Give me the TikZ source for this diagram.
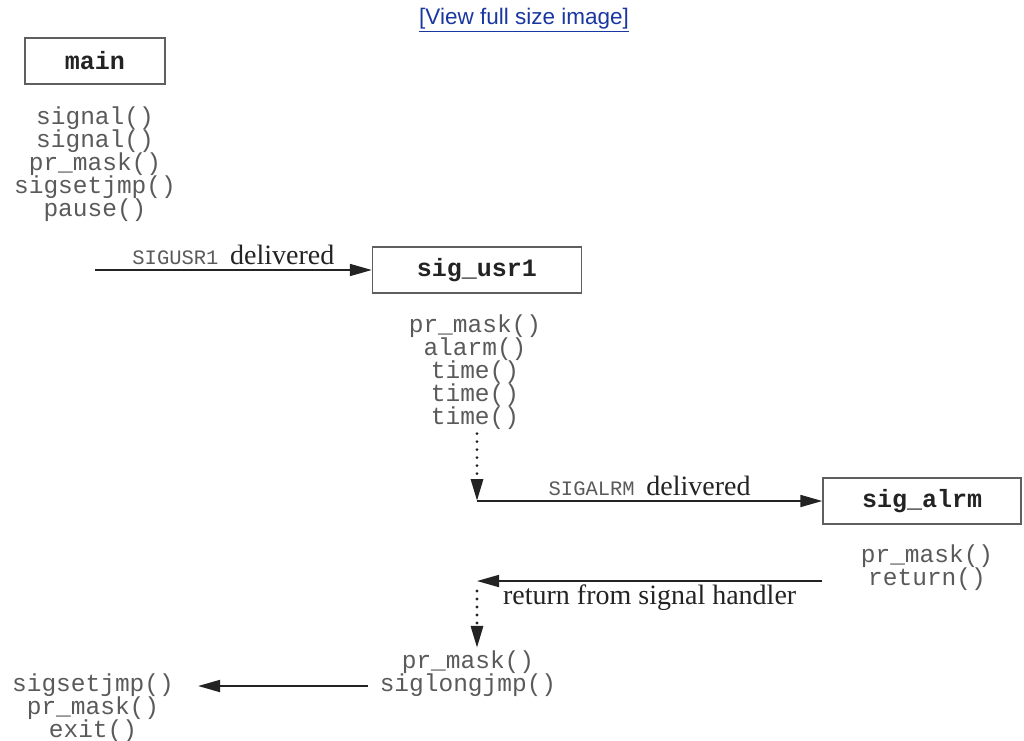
\documentclass[tikz,border=0pt]{standalone}
\usepackage{fontspec}
\setmainfont{Liberation Serif}
\setmonofont{Liberation Mono}
\newfontfamily\linkfont{Liberation Sans}
\usetikzlibrary{arrows.meta,positioning}

\definecolor{ink}{RGB}{35,35,35}
\definecolor{codegray}{RGB}{90,90,90}
\definecolor{framegray}{RGB}{95,95,95}
\definecolor{linkblue}{RGB}{25,55,160}

\newcommand\signame[1]{\textcolor{codegray}{\fontsize{20.5}{22}\selectfont\ttfamily #1}}

\begin{document}
\begin{tikzpicture}[
  x=1pt, y=-1pt,
  >={Triangle[length=22pt,width=12pt]},
  handler/.style={draw=framegray, line width=1.4pt, minimum height=46pt,
    font=\fontsize{25}{28}\selectfont\ttfamily\bfseries, text=ink},
  calls/.style={align=center, inner sep=0pt, text=codegray,
    font=\fontsize{24.5}{23}\selectfont\ttfamily},
  flow/.style={->, line width=1.8pt, draw=ink},
  jump/.style={->, line width=3.2pt, draw=ink, line cap=round,
    dash pattern=on 0pt off 8pt},
  note/.style={font=\fontsize{28}{30}\selectfont, text=ink, inner sep=0pt}
]

\useasboundingbox (0,0) rectangle (1024,740);

\node[text=linkblue, font=\fontsize{22.5}{24}\selectfont\linkfont, inner sep=0pt]
  (link) at (524,20) {\underline{[View full size image]}};

% handlers
\node[handler, minimum width=140pt] (main) at (95,61) {main};
\node[handler, minimum width=209pt] (usr1) at (477,270) {sig\_usr1};
\node[handler, minimum width=198pt] (alrm) at (922,501) {sig\_alrm};

% what each one calls
\node[calls] (maincalls) at (95,164)
  {signal()\\signal()\\pr\_mask()\\sigsetjmp()\\pause()};
\node[calls] (usr1calls) at (475,372)
  {pr\_mask()\\alarm()\\time()\\time()\\time()};
\node[calls] (alrmcalls) at (927,568) {pr\_mask()\\return()};
\node[calls] (longcalls) at (468,674) {pr\_mask()\\siglongjmp()};
\node[calls] (endcalls) at (93,708) {sigsetjmp()\\pr\_mask()\\exit()};

\coordinate (usrstart) at (95,270);
\coordinate (alrmcorner) at (477,501);
\coordinate (retend) at (477,581);

\draw[flow] (usrstart) -- (usr1.west)
  node[midway, above=4pt, note] {\signame{SIGUSR1}\, delivered};

\draw[jump] ([yshift=-4pt]usr1calls.south -| alrmcorner) -- (alrmcorner);
\draw[flow] (alrmcorner) -- (alrm.west)
  node[midway, above=4pt, note] {\signame{SIGALRM}\, delivered};

\draw[flow] (alrm.west |- retend) -- (retend)
  node[midway, below=3pt, note] {return from signal handler};
\draw[jump] ([yshift=-10pt]retend) -- ([yshift=3pt]longcalls.north -| retend);

\draw[flow] ([xshift=-12pt]longcalls.south west |- 0,686) -- ([xshift=24pt]endcalls.north east |- 0,686);

\end{tikzpicture}
\end{document}
